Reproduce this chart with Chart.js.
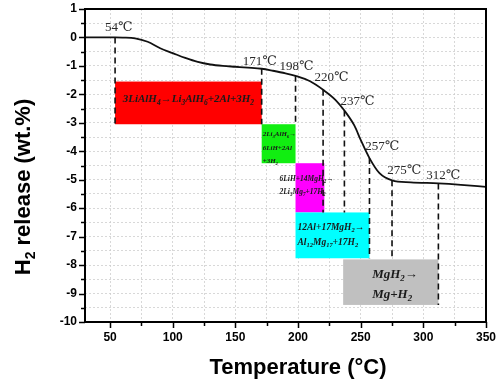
<!DOCTYPE html>
<html lang="en">
<head>
    <meta charset="UTF-8">
    <title>H2 release</title>
    <script src="https://cdn.jsdelivr.net/npm/chart.js"></script>
    <style>
        html, body { margin: 0; padding: 0; background: #fff; }
        #wrap { width: 500px; height: 384px; }
    </style>
</head>
<body>
    <div id="wrap"><canvas id="chartRelease" width="500" height="384"></canvas></div>

    <script>
        // curve: temperature (C) vs H2 release (wt.%)
        const temps = [30, 40, 50, 54, 60, 70, 80, 90, 100, 110, 120, 130, 140, 150, 160, 171, 180, 190, 198, 210, 220, 230, 237, 245, 250, 257, 265, 275, 290, 312, 330, 350];
        const release = [0, 0, 0, 0, -0.005, -0.03, -0.15, -0.38, -0.55, -0.72, -0.86, -0.95, -1.0, -1.03, -1.06, -1.1, -1.17, -1.26, -1.35, -1.55, -1.84, -2.2, -2.57, -3.1, -3.6, -4.24, -4.77, -5.02, -5.09, -5.13, -5.18, -5.25];

        // marked temperatures and where their dashed drop lines end
        const markTemps = [54, 171, 198, 220, 237, 257, 275, 312];
        const markEnds = [-3.05, -3.05, -3.0, -6.15, -6.15, -7.76, -7.8, -9.4];
        // label anchor (x in C, y in wt.%)
        const markLabelX = [57, 169.4, 198.8, 226.7, 247.4, 267.3, 284.8, 315.9];
        const markLabelY = [0.34, -0.85, -1.03, -1.42, -2.26, -3.85, -4.69, -4.86];

        // reaction boxes: temperature range and wt.% range
        const boxT1 = [54, 171, 198, 198, 236];
        const boxT2 = [171, 198, 221, 257, 312];
        const boxTop = [-1.55, -3.05, -4.42, -6.15, -7.8];
        const boxBottom = [-3.05, -4.42, -6.15, -7.76, -9.4];
        const boxText = [
            ['3LiAlH_4→Li_3AlH_6+2Al+3H_2'],
            ['2Li_3AlH_6→', '6LiH+2Al', '+3H_2'],
            ['6LiH+14MgH_2→', '2Li_3Mg_7+17H_2'],
            ['12Al+17MgH_2→', 'Al_12Mg_17+17H_2'],
            ['MgH_2→', 'Mg+H_2']
        ];

        // ticks
        const xTickValues = [50, 75, 100, 125, 150, 175, 200, 225, 250, 275, 300, 325, 350];
        const yTickValues = [];
        for (let v = -10; v <= 1; v += 0.5) yTickValues.push(v);

        // styles for boxes (pixel offsets from box top-left)
        const boxStyle = [
            { color: '#ff0000', size: 11, align: 'center', dx: 0, dy: [18] },
            { color: '#11ee11', size: 7, align: 'left', dx: 1, dy: [10, 24, 37] },
            { color: '#ff00ff', size: 7.5, align: 'left', dx: -16, dy: [16, 29] },
            { color: '#00ffff', size: 9.5, align: 'left', dx: 2, dy: [15, 30] },
            { color: '#c0c0c0', size: 13, align: 'left', dx: 29, dy: [15, 35] }
        ];

        const valueAt = (t) => release[temps.indexOf(t)];

        // rich text with subscripts written as _digits
        function parseRich(str) {
            const parts = [];
            const re = /_(\d+)/g;
            let last = 0, m;
            while ((m = re.exec(str)) !== null) {
                if (m.index > last) parts.push({ t: str.slice(last, m.index), sub: false });
                parts.push({ t: m[1], sub: true });
                last = re.lastIndex;
            }
            if (last < str.length) parts.push({ t: str.slice(last), sub: false });
            return parts;
        }
        function drawRich(ctx, str, x, y, size, align, family, weight) {
            const parts = parseRich(str);
            const fnt = (s) => `${weight} ${s}px ${family}`;
            let w = 0;
            parts.forEach(p => { ctx.font = fnt(p.sub ? size * 0.68 : size); w += ctx.measureText(p.t).width; });
            let cx = align === 'center' ? x - w / 2 : x;
            ctx.textAlign = 'left';
            ctx.textBaseline = 'middle';
            parts.forEach(p => {
                const s = p.sub ? size * 0.68 : size;
                ctx.font = fnt(s);
                ctx.fillText(p.t, cx, p.sub ? y + size * 0.32 : y);
                cx += ctx.measureText(p.t).width;
            });
        }

        const boxesPlugin = {
            id: 'boxes',
            beforeDatasetsDraw(chart) {
                const { ctx, scales: { x, y } } = chart;
                ctx.save();
                boxT1.forEach((t1, i) => {
                    const x1 = x.getPixelForValue(t1), x2 = x.getPixelForValue(boxT2[i]);
                    const y1 = y.getPixelForValue(boxTop[i]), y2 = y.getPixelForValue(boxBottom[i]);
                    ctx.fillStyle = boxStyle[i].color;
                    ctx.fillRect(x1, y1, x2 - x1, y2 - y1);
                });
                ctx.restore();
            },
            afterDatasetsDraw(chart) {
                const { ctx, scales: { x, y } } = chart;
                ctx.save();
                ctx.fillStyle = '#1a1a1a';
                boxT1.forEach((t1, i) => {
                    const st = boxStyle[i];
                    const x1 = x.getPixelForValue(t1), x2 = x.getPixelForValue(boxT2[i]);
                    const y1 = y.getPixelForValue(boxTop[i]);
                    boxText[i].forEach((line, j) => {
                        const px = st.align === 'center' ? (x1 + x2) / 2 : x1 + st.dx;
                        drawRich(ctx, line, px, y1 + st.dy[j], st.size, st.align, '"Liberation Serif", serif', 'italic bold');
                    });
                });
                // temperature labels
                ctx.fillStyle = '#2a2a2a';
                ctx.font = '13px "Liberation Serif", "DejaVu Serif", serif';
                ctx.textAlign = 'center';
                ctx.textBaseline = 'middle';
                markTemps.forEach((t, i) => {
                    ctx.fillText(t + '℃', x.getPixelForValue(markLabelX[i]), y.getPixelForValue(markLabelY[i]));
                });
                ctx.restore();
            },
            afterDraw(chart) {
                const { ctx, chartArea: a, scales: { x, y } } = chart;
                ctx.save();
                ctx.strokeStyle = '#000';
                ctx.lineWidth = 2;
                ctx.strokeRect(a.left, a.top, a.right - a.left, a.bottom - a.top);
                ctx.lineWidth = 1.5;
                ctx.beginPath();
                xTickValues.forEach(v => {
                    const px = Math.round(x.getPixelForValue(v)) + 0.5;
                    const len = v % 50 === 0 ? 6 : 4;
                    ctx.moveTo(px, a.bottom); ctx.lineTo(px, a.bottom + len);
                });
                yTickValues.forEach(v => {
                    const py = Math.round(y.getPixelForValue(v)) + 0.5;
                    const len = Number.isInteger(v) ? 6 : 4;
                    ctx.moveTo(a.left, py); ctx.lineTo(a.left - len, py);
                });
                ctx.stroke();

                // axis titles
                ctx.fillStyle = '#000';
                ctx.textAlign = 'center';
                ctx.textBaseline = 'middle';
                ctx.font = 'bold 22px "Liberation Sans", Arial, sans-serif';
                ctx.fillText('Temperature (°C)', 298, 368);

                ctx.translate(24, 187);
                ctx.rotate(-Math.PI / 2);
                const fam = '"Liberation Sans", Arial, sans-serif';
                ctx.font = `bold 22px ${fam}`;
                const w1 = ctx.measureText('H').width;
                ctx.font = `bold 14px ${fam}`;
                const w2 = ctx.measureText('2').width;
                ctx.font = `bold 22px ${fam}`;
                const w3 = ctx.measureText(' release (wt.%)').width;
                let sx = -(w1 + w2 + w3) / 2;
                ctx.textAlign = 'left';
                ctx.fillText('H', sx, 0); sx += w1;
                ctx.font = `bold 14px ${fam}`;
                ctx.fillText('2', sx, 7); sx += w2;
                ctx.font = `bold 22px ${fam}`;
                ctx.fillText(' release (wt.%)', sx, 0);
                ctx.restore();
            }
        };

        const dropLines = markTemps.map((t, i) => ({
            data: [{ x: t, y: valueAt(t) }, { x: t, y: markEnds[i] }],
            showLine: true,
            borderColor: '#111',
            borderWidth: 1.6,
            borderDash: [6, 4],
            pointRadius: 0
        }));

        // no extra room for overhanging tick labels, layout padding decides the plot area
        const noPad = (s) => { s.paddingTop = 0; s.paddingBottom = 0; s.paddingLeft = 0; s.paddingRight = 0; };

        const ctx = document.getElementById('chartRelease').getContext('2d');
        Chart.defaults.font.family = '"Liberation Sans", Arial, sans-serif';
        const chart = new Chart(ctx, {
            type: 'scatter',
            data: {
                datasets: [
                    ...dropLines,
                    {
                        data: temps.map((t, i) => ({ x: t, y: release[i] })),
                        showLine: true,
                        borderColor: '#111',
                        borderWidth: 1.8,
                        pointRadius: 0,
                        cubicInterpolationMode: 'monotone'
                    }
                ]
            },
            options: {
                responsive: false,
                animation: false,
                layout: { padding: { top: 9, right: 14, left: 0, bottom: 0 } },
                plugins: { legend: { display: false }, tooltip: { enabled: false } },
                scales: {
                    x: {
                        type: 'linear',
                        min: 30,
                        max: 350,
                        afterBuildTicks: (s) => { s.ticks = xTickValues.map(v => ({ value: v })); },
                        afterFit: (s) => { s.height = 62; noPad(s); },
                        grid: { color: '#cfcfcf', lineWidth: 0.8, drawTicks: false },
                        border: { display: false, dash: [2, 2] },
                        ticks: {
                            autoSkip: false,
                            maxRotation: 0,
                            padding: 8,
                            color: '#000',
                            font: { size: 12, weight: 'bold' },
                            callback: (v) => (v % 50 === 0 ? v : '')
                        }
                    },
                    y: {
                        min: -10,
                        max: 1,
                        afterBuildTicks: (s) => { s.ticks = yTickValues.map(v => ({ value: v })); },
                        afterFit: (s) => { s.width = 85; noPad(s); },
                        grid: { color: '#cfcfcf', lineWidth: 0.8, drawTicks: false },
                        border: { display: false, dash: [2, 2] },
                        ticks: {
                            autoSkip: false,
                            padding: 8,
                            color: '#000',
                            font: { size: 12, weight: 'bold' },
                            callback: (v) => (Number.isInteger(v) ? v : '')
                        }
                    }
                }
            },
            plugins: [boxesPlugin]
        });
    </script>
</body>
</html>
